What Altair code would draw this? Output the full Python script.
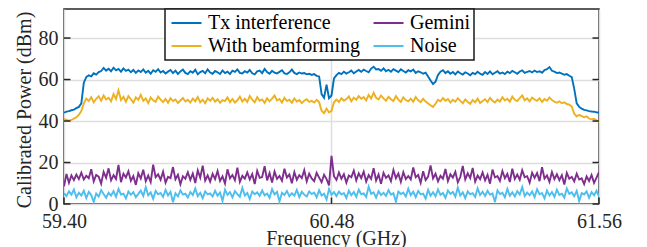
import altair as alt
import numpy as np
import pandas as pd

# Sampling grid of the spectrum (GHz)
FREQ_START = 59.40
FREQ_STEP = 0.01
N_POINTS = 217

SERIES = ["Tx interference", "With beamforming", "Gemini", "Noise"]
COLORS = ["#0072BD", "#EDB120", "#7E2F8E", "#4DBEEE"]

tx_interference = [
    44.0, 44.5, 44.8, 45.2, 45.5, 46.2, 46.8, 48.5, 58.5, 61.2,
    62.0, 61.5, 63.0, 62.4, 63.6, 64.1, 65.6, 64.3, 65.2, 64.0,
    65.7, 64.4, 65.1, 63.8, 65.4, 64.2, 64.8, 63.5, 64.6, 63.2,
    64.4, 63.6, 64.9, 63.3, 64.2, 62.8, 64.5, 63.7, 65.0, 63.4,
    64.1, 62.9, 63.8, 64.6, 63.1, 64.3, 62.7, 63.9, 64.8, 63.2,
    62.6, 64.0, 63.3, 64.7, 62.5, 63.6, 64.2, 63.0, 64.9, 63.4,
    62.8, 64.1, 63.5, 62.7, 64.4, 63.1, 63.8, 62.6, 64.3, 63.7,
    64.9, 63.2, 62.9, 64.0, 63.4, 64.6, 63.0, 62.5, 63.9, 64.3,
    63.1, 65.1, 63.6, 62.8, 64.2, 63.3, 62.9, 63.7, 64.5, 63.0,
    62.7, 63.5, 64.8, 63.2, 62.6, 63.4, 62.9, 63.1, 62.5, 62.8,
    62.2, 62.6, 61.8, 61.5, 53.0, 51.2, 57.5, 51.0, 52.3, 60.5,
    62.1, 63.2, 62.6, 63.8, 62.9, 63.5, 64.3, 63.0, 63.9, 64.6,
    63.7, 64.8, 64.1, 63.5, 65.3, 66.2, 64.9, 65.1, 64.2, 65.4,
    64.0, 64.7, 63.8, 65.0, 64.3, 63.6, 64.9, 64.1, 63.4, 64.5,
    63.9, 64.8, 63.2, 64.0, 63.5, 62.8, 63.3, 61.5, 59.5, 57.8,
    59.0, 62.2, 63.8, 64.5, 63.1, 64.0, 62.8, 63.6, 62.5, 63.9,
    63.0, 62.4, 63.5, 62.9, 62.1, 63.2, 62.6, 63.7, 62.8, 62.3,
    63.6, 62.7, 63.9, 62.5, 63.3, 64.0, 62.9, 63.4, 62.6, 63.8,
    63.1, 64.2, 63.5, 62.8, 63.9, 64.4, 63.2, 63.7, 64.1, 63.4,
    64.3, 63.6, 64.0, 63.3, 64.6, 65.0, 66.0, 64.2, 63.8, 63.1,
    63.4, 62.8, 62.3, 62.6, 61.8, 61.2, 55.5, 48.5, 46.8, 46.0,
    45.4, 45.1, 44.8, 44.6, 44.5, 44.2, 44.0,
]

with_beamforming = [
    41.0, 40.6, 40.2, 40.5, 41.2, 41.8, 43.0, 44.8, 48.5, 50.8,
    49.6, 51.5, 49.0, 50.7, 51.9, 49.8, 52.3, 50.4, 51.2, 49.5,
    53.0, 50.6, 54.8, 50.1, 51.7, 49.3, 52.0, 50.5, 48.9, 51.4,
    50.2, 52.6, 49.7, 50.9, 48.6, 51.3, 50.0, 49.2, 51.8, 50.3,
    49.1, 50.7, 48.8, 51.0, 49.6, 50.4, 48.7, 49.9, 51.1, 49.4,
    50.2, 48.9, 50.8, 49.5, 51.6, 49.0, 50.3, 48.6, 50.9, 49.7,
    51.2, 49.3, 50.5, 48.8, 50.1, 49.6, 51.4, 49.1, 50.6, 48.9,
    50.0, 51.8, 49.4, 50.7, 49.2, 52.1, 50.3, 49.0, 51.5, 49.8,
    50.4, 48.7, 51.0, 49.5, 50.8, 52.3, 49.9, 50.6, 48.9, 51.2,
    49.6, 50.3, 48.8, 50.9, 49.4, 50.1, 48.6, 49.8, 50.5, 49.2,
    49.7, 48.9, 50.2, 49.1, 45.0, 43.8, 46.0, 44.1, 44.9, 49.0,
    50.3, 49.2, 51.0, 49.8, 50.6, 51.9, 49.5, 51.3, 50.2, 52.0,
    50.7, 51.5, 49.9, 52.6, 50.8, 53.6, 51.2, 50.4, 52.3, 50.9,
    49.8, 51.7, 50.5, 49.6, 52.0, 50.3, 49.2, 51.4, 50.1, 49.5,
    50.8, 49.3, 51.6, 50.0, 49.1, 50.7, 49.4, 48.5, 47.6, 46.8,
    48.3, 50.2, 49.5, 51.1, 49.8, 50.6, 48.9, 50.2, 49.3, 51.0,
    49.7, 48.6, 50.4, 49.2, 48.3, 50.1, 49.0, 50.8, 48.7, 49.6,
    50.5, 49.1, 51.2, 49.8, 48.9, 50.3, 49.4, 51.5, 49.9, 50.7,
    49.3, 51.8, 50.2, 49.6, 51.1, 52.4, 50.0, 50.9, 49.5, 51.3,
    50.4, 49.7, 51.0, 49.2, 50.6, 49.8, 51.4, 50.1, 49.3, 48.8,
    49.5, 48.6, 49.0, 48.2, 47.9, 47.0, 43.5, 42.2, 43.0, 42.4,
    41.8, 42.3, 41.2, 40.8, 41.1, 40.3, 39.6,
]

gemini = [
    8.5, 14.5, 10.2, 13.8, 11.5, 14.2, 12.0, 15.1, 11.8, 13.6,
    12.4, 16.8, 10.9, 14.0, 13.2, 9.8, 15.5, 12.6, 17.2, 11.4,
    13.9, 12.1, 18.9, 10.5, 14.6, 12.8, 15.8, 11.2, 13.5, 9.2,
    14.8, 12.3, 16.5, 11.0, 13.7, 10.6, 19.0, 12.9, 14.3, 11.7,
    15.6, 10.3, 13.1, 12.5, 17.8, 11.9, 14.1, 9.5, 13.4, 12.2,
    15.3, 11.6, 14.7, 10.1, 16.2, 12.7, 18.5, 11.3, 13.8, 10.8,
    14.5, 12.0, 15.9, 11.1, 13.3, 9.9, 16.7, 12.4, 14.0, 11.5,
    17.5, 10.7, 13.6, 12.2, 15.2, 11.8, 14.4, 9.6, 16.0, 12.6,
    13.0, 18.2, 11.4, 14.9, 10.4, 15.7, 12.1, 13.5, 11.2, 17.0,
    12.8, 14.2, 10.0, 15.4, 11.7, 13.9, 12.5, 16.3, 10.9, 14.6,
    12.3, 11.0, 15.0, 12.7, 10.5, 14.1, 12.0, 9.0, 23.2, 13.4,
    11.6, 15.2, 12.2, 14.4, 10.3, 13.7, 12.9, 16.1, 11.4, 14.8,
    12.5, 15.6, 10.8, 13.9, 12.1, 17.3, 11.3, 14.2, 9.7, 15.0,
    12.6, 13.8, 11.0, 16.4, 12.4, 14.7, 10.6, 15.3, 12.0, 13.5,
    11.8, 17.6, 12.9, 14.0, 10.2, 15.8, 11.5, 13.2, 18.6, 12.3,
    14.6, 10.9, 13.6, 12.2, 16.9, 11.1, 14.3, 12.7, 15.5, 10.4,
    13.0, 18.3, 11.9, 14.8, 12.5, 17.4, 10.8, 13.7, 12.0, 15.2,
    11.4, 14.1, 9.8, 16.6, 12.8, 13.5, 11.2, 15.9, 12.4, 14.5,
    10.6, 17.0, 12.1, 14.2, 11.7, 16.3, 12.9, 13.4, 10.3, 15.1,
    12.6, 14.9, 11.0, 17.7, 12.3, 13.8, 10.7, 15.4, 12.0, 14.3,
    11.5, 13.9, 9.4, 15.0, 12.2, 13.1, 10.9, 14.6, 11.8, 12.4,
    9.6, 13.3, 11.1, 14.0, 10.2, 12.7, 15.3,
]

noise = [
    5.2, 3.8, 6.1, 4.5, 7.0, 3.2, 5.5, 4.1, 6.4, 2.9,
    5.8, 4.3, 1.0, 5.1, 3.6, 6.7, 4.8, 3.0, 5.4, 4.0,
    6.2, 3.5, 7.3, 4.6, 5.0, 2.7, 6.0, 4.4, 5.7, 3.3,
    4.9, 6.5, 3.9, 8.1, 4.2, 5.6, 2.5, 6.3, 4.7, 5.3,
    3.4, 6.8, 4.1, 5.9, 0.8, 5.2, 3.7, 6.6, 4.5, 5.0,
    3.1, 5.8, 4.3, 7.5, 3.8, 5.4, 2.8, 6.1, 4.6, 5.1,
    3.6, 6.4, 4.0, 5.5, 1.5, 6.9, 4.4, 5.7, 3.2, 6.2,
    4.8, 3.5, 7.8, 4.1, 5.3, 2.4, 6.0, 4.7, 5.6, 3.9,
    6.5, 4.2, 5.0, 3.0, 7.1, 4.6, 5.8, 1.2, 5.4, 4.3,
    6.3, 3.7, 5.2, 4.0, 6.8, 3.3, 5.9, 4.5, 3.6, 6.1,
    4.8, 5.5, 3.2, 6.6, 4.1, 5.0, 2.2, 7.2, 4.4, 5.7,
    3.8, 6.0, 4.6, 5.3, 2.9, 6.4, 4.2, 5.8, 3.5, 6.9,
    4.7, 5.1, 3.4, 8.4, 4.9, 5.6, 3.1, 6.2, 4.3, 5.4,
    3.9, 6.7, 4.5, 5.2, 1.1, 6.0, 4.8, 5.5, 3.6, 7.4,
    4.2, 5.9, 3.3, 6.3, 4.6, 5.0, 2.6, 6.8, 4.0, 5.7,
    3.7, 7.0, 4.4, 5.3, 3.0, 6.5, 4.9, 5.8, 3.5, 8.0,
    4.1, 5.6, 2.8, 6.1, 4.7, 5.2, 3.4, 7.6, 4.3, 5.9,
    3.9, 6.4, 4.5, 5.1, 0.9, 6.6, 4.8, 5.4, 3.2, 7.3,
    4.0, 5.7, 3.6, 6.2, 4.6, 8.2, 3.8, 5.5, 4.2, 6.0,
    3.3, 7.1, 4.7, 5.3, 2.7, 6.5, 4.1, 5.8, 3.5, 6.9,
    4.4, 5.0, 3.1, 7.5, 4.9, 5.6, 3.7, 6.3, 1.4, 5.2,
    4.6, 6.1, 3.0, 5.7, 4.2, 6.4, 3.5,
]

X_TICKS = [59.40, 60.48, 61.56]
Y_TICKS = [0, 20, 40, 60, 80]
X_DOMAIN = [59.40, 61.56]
Y_DOMAIN = [0, 94]

freq = np.round(FREQ_START + FREQ_STEP * np.arange(N_POINTS), 2)
values_by_series = {
    "Tx interference": tx_interference,
    "With beamforming": with_beamforming,
    "Gemini": gemini,
    "Noise": noise,
}
frames = []
for k, name in enumerate(SERIES):
    frames.append(pd.DataFrame({"freq": freq, "value": values_by_series[name],
                                "series": name, "ord": k}))
df = pd.concat(frames, ignore_index=True)

FONT = "Liberation Serif"
INK = "#262626"

xscale = alt.Scale(domain=X_DOMAIN, nice=False, zero=False)
yscale = alt.Scale(domain=Y_DOMAIN, nice=False, zero=False)

xaxis = alt.Axis(values=X_TICKS, format=".2f", title="Frequency (GHz)",
                 labelFlush=False, labelPadding=7, grid=True,
                 titleX=272, titleY=40, titleBaseline="alphabetic")
yaxis = alt.Axis(values=Y_TICKS, title="Calibrated Power (dBm)",
                 labelPadding=6, grid=True,
                 titleX=-33.5, titleY=100.5, titleBaseline="alphabetic")

lines = alt.Chart(df).mark_line(strokeWidth=1.9, clip=True).encode(
    x=alt.X("freq:Q", scale=xscale, axis=xaxis),
    y=alt.Y("value:Q", scale=yscale, axis=yaxis),
    color=alt.Color("series:N",
                    scale=alt.Scale(domain=SERIES, range=COLORS),
                    legend=alt.Legend(orient="none", legendX=101, legendY=0,
                                      columns=2, title=None,
                                      symbolType="M-1,0H3", symbolSize=225,
                                      symbolStrokeWidth=2,
                                      labelFont=FONT, labelFontSize=20,
                                      labelColor="#000000", labelLimit=300,
                                      labelOffset=19, columnPadding=9,
                                      rowPadding=3, padding=4,
                                      fillColor="#ffffff", strokeColor="#1a1a1a")),
    order=alt.Order("ord:Q"),
)

ytick_df = pd.DataFrame({"value": Y_TICKS})
xtick_df = pd.DataFrame({"freq": X_TICKS})

ytick_left = alt.Chart(ytick_df).mark_rule(color=INK, strokeWidth=1.5).encode(
    y=alt.Y("value:Q", scale=yscale, axis=yaxis),
    x=alt.value(0), x2=alt.value(6.5))
ytick_right = alt.Chart(ytick_df).mark_rule(color=INK, strokeWidth=1.5).encode(
    y=alt.Y("value:Q", scale=yscale, axis=yaxis),
    x=alt.value(535), x2=alt.value(528.5))
xtick_bottom = alt.Chart(xtick_df).mark_rule(color=INK, strokeWidth=1.5).encode(
    x=alt.X("freq:Q", scale=xscale, axis=xaxis),
    y=alt.value(195), y2=alt.value(188.5))

chart = alt.layer(lines, ytick_left, ytick_right, xtick_bottom).properties(
    width=535, height=195,
    autosize="none",
    padding={"left": 56, "top": 1, "right": 30, "bottom": 46},
).configure_view(
    stroke=INK, strokeWidth=1.5
).configure_axis(
    labelFont=FONT, labelFontSize=20, labelColor=INK,
    titleFont=FONT, titleFontSize=20, titleColor=INK, titleFontWeight="normal",
    domain=False, ticks=False,
    gridColor="#dedede", gridWidth=1.5,
).configure_legend(
    strokeWidth=1.5
)

chart.save("out.html", embed_options={"renderer": "svg", "actions": False})
